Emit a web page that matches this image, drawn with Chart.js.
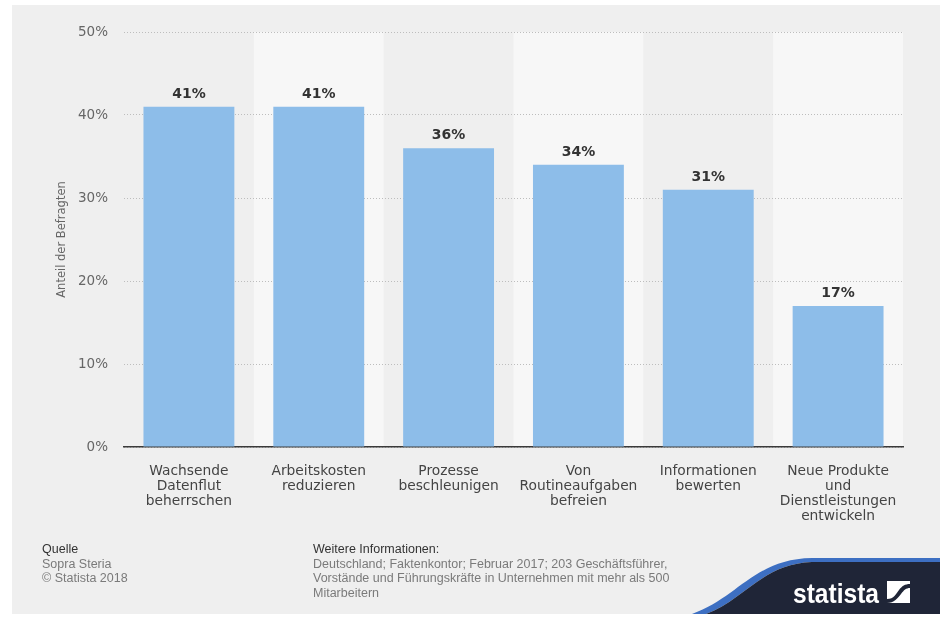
<!DOCTYPE html>
<html>
<head>
<meta charset="utf-8">
<script src="https://cdn.jsdelivr.net/npm/chart.js@4/dist/chart.umd.min.js"></script>
<style>
  html, body { margin:0; padding:0; background:#ffffff; }
  #wrap { position:relative; width:944px; height:617px; overflow:hidden; }
  #panel { position:absolute; left:12px; top:5px; width:928px; height:609px; background:#efefef; }
  #c { position:absolute; left:0; top:0; }
  .ft { position:absolute; font-family:"Liberation Sans Narrow","Liberation Sans",sans-serif; font-size:12.5px; line-height:14.7px; color:#7a7a7a; white-space:nowrap; }
  .ft b { font-weight:normal; color:#333; }
  #logo { position:absolute; left:0; top:0; }
</style>
</head>
<body>
<div id="wrap">
  <div id="panel"></div>
  <canvas id="c" width="944" height="617"></canvas>
  <div class="ft" style="left:42px; top:542px;"><b>Quelle</b><br>Sopra Steria<br>© Statista 2018</div>
  <div class="ft" style="left:313px; top:542px;"><b>Weitere Informationen:</b><br>Deutschland; Faktenkontor; Februar 2017; 203 Geschäftsführer,<br>Vorstände und Führungskräfte in Unternehmen mit mehr als 500<br>Mitarbeitern</div>
  <svg id="logo" width="944" height="617" viewBox="0 0 944 617">
    <path d="M692,614 C738,598 754,559 812,558 L940,558 L940,562 L812,562 C762,564 744,600 706,614 Z" fill="#3d6fc2"/>
    <path d="M706,614 C744,600 762,564 812,562 L940,562 L940,614 Z" fill="#1f2537"/>
    <text x="793" y="603" fill="#ffffff" font-family="Liberation Sans Narrow, Liberation Sans, sans-serif" font-weight="bold" font-size="28" textLength="86" lengthAdjust="spacingAndGlyphs">statista</text>
    <rect x="887" y="581" width="23" height="22" fill="#ffffff"/>
    <path d="M887,599 C894,599 896,594 899,590 C902,586 905,584 910,584 L910,588 C906,588 904,590 901,594 C898,598 894,603 887,603 Z" fill="#1f2537"/>
  </svg>
</div>
<script>
const categories = [
  ["Wachsende", "Datenflut", "beherrschen"],
  ["Arbeitskosten", "reduzieren"],
  ["Prozesse", "beschleunigen"],
  ["Von", "Routineaufgaben", "befreien"],
  ["Informationen", "bewerten"],
  ["Neue Produkte", "und", "Dienstleistungen", "entwickeln"]
];
const values = [41, 41, 36, 34, 31, 17];
const yTicks = [0, 10, 20, 30, 40, 50];
const yTitle = "Anteil der Befragten";

const bandPlugin = {
  id: 'bands',
  beforeDraw(chart) {
    const {ctx, chartArea, scales:{x}} = chart;
    const half = (x.getPixelForValue(1) - x.getPixelForValue(0)) / 2;
    ctx.save();
    ctx.fillStyle = '#f7f7f7';
    for (let i = 1; i < categories.length; i += 2) {
      const cx = x.getPixelForValue(i);
      ctx.fillRect(cx - half, chartArea.top, half * 2, chartArea.bottom - chartArea.top);
    }
    ctx.restore();
  }
};

const labelPlugin = {
  id: 'vlabels',
  afterDatasetsDraw(chart) {
    const {ctx} = chart;
    const meta = chart.getDatasetMeta(0);
    ctx.save();
    ctx.font = 'bold 14px "DejaVu Sans"';
    ctx.fillStyle = '#333333';
    ctx.textAlign = 'center';
    ctx.textBaseline = 'alphabetic';
    meta.data.forEach((bar, i) => {
      ctx.fillText(values[i] + '%', bar.x, bar.y - 9);
    });
    ctx.restore();
  }
};

new Chart(document.getElementById('c'), {
  type: 'bar',
  data: {
    labels: categories,
    datasets: [{
      data: values,
      backgroundColor: '#8dbde9',
      borderWidth: 0,
      barPercentage: 0.7,
      categoryPercentage: 1.0
    }]
  },
  options: {
    responsive: false,
    animation: false,
    layout: { padding: { top: 32, right: 41, left: 0, bottom: 0 } },
    plugins: { legend: { display: false }, tooltip: { enabled: false } },
    scales: {
      x: {
        afterFit(s) { s.height = 170; },
        grid: { display: false },
        border: { display: true, color: '#3a3a3a', width: 1.5 },
        ticks: {
          color: '#444444',
          font: { family: 'DejaVu Sans', size: 13.8, lineHeight: 1.09 },
          padding: 9,
          maxRotation: 0,
          autoSkip: false
        }
      },
      y: {
        min: 0, max: 50,
        afterFit(s) { s.width = 124; },
        afterBuildTicks(s) { s.ticks = yTicks.map(v => ({ value: v })); },
        grid: { color: '#bdbdbd', lineWidth: 1, drawTicks: false },
        border: { display: false, dash: [1, 2] },
        ticks: {
          color: '#666666',
          font: { family: 'DejaVu Sans', size: 13.5 },
          padding: 16,
          callback: v => v + '%'
        },
        title: {
          display: true,
          text: yTitle,
          color: '#666666',
          font: { family: 'DejaVu Sans', size: 11.5 },
          padding: { top: 55, bottom: 0 }
        }
      }
    }
  },
  plugins: [bandPlugin, labelPlugin]
});
</script>
</body>
</html>
